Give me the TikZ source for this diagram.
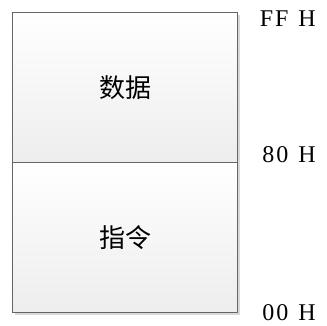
\documentclass[tikz,border=0pt]{standalone}
\usepackage{fontspec}
\setmainfont{Liberation Serif}
\newfontfamily\cjk{Noto Sans CJK SC}
\usetikzlibrary{shadows}
\tikzset{
  memblock/.style={draw=black!60, line width=0.9pt, top color=white, bottom color=black!7,
    minimum width=225.5pt, minimum height=150.5pt, inner sep=0pt,
    drop shadow={shadow xshift=2.5pt, shadow yshift=-2.5pt, fill=black!15, opacity=1}},
  cnlabel/.style={font=\cjk\fontsize{26pt}{30pt}\selectfont},
  addr/.style={font=\fontsize{24pt}{26pt}\selectfont, inner sep=0pt, anchor=east}
}
\begin{document}
\begin{tikzpicture}[x=1pt,y=1pt]
\useasboundingbox (0,0) rectangle (327,326);
\node[memblock] (data) at (125,326-87.5) {};
\node[memblock] (instr) at (125,326-237.5) {};
\node[cnlabel] at (data.center) {数据};
\node[cnlabel] at (instr.center) {指令};
\node[addr] (ff) at (316,326-19) {F\hspace{2pt}F\hspace{10pt}H};
\node[addr] (e8) at (316,326-155) {8\hspace{2pt}0\hspace{10pt}H};
\node[addr] (z0) at (316,326-313) {0\hspace{2pt}0\hspace{10pt}H};
\end{tikzpicture}
\end{document}
